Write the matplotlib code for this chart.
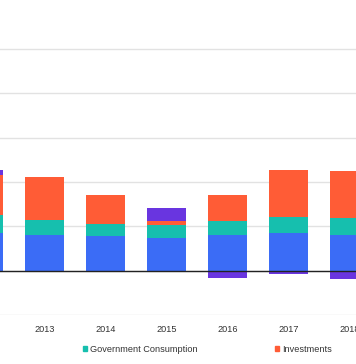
import numpy as np
import matplotlib as mpl
mpl.use("Agg")
import matplotlib.pyplot as plt
from matplotlib.patches import Patch
from matplotlib import font_manager

# narrow sans if it is there, plain Liberation Sans otherwise
_names = {f.name for f in font_manager.fontManager.ttflist}
if "Liberation Sans Narrow" in _names:
    FAMILY, FSIZE = ["Liberation Sans Narrow", "DejaVu Sans"], 7.4
else:
    FAMILY, FSIZE = ["Liberation Sans", "DejaVu Sans"], 6.6

mpl.rcParams.update({
    "font.family": FAMILY,
    "font.size": FSIZE,
    "text.color": "#333333",
})

# ---------------------------------------------------------------------------
# Data (contributions to growth, percentage points)
# ---------------------------------------------------------------------------
years = [2012, 2013, 2014, 2015, 2016, 2017, 2018]
private_cons = [0.84, 0.80, 0.78, 0.74, 0.81, 0.85, 0.80]
government_cons = [0.42, 0.35, 0.27, 0.29, 0.31, 0.36, 0.39]
investments = [0.89, 0.97, 0.66, 0.10, 0.60, 1.07, 1.07]
net_exports = [0.13, 0.00, -0.04, 0.28, -0.16, -0.07, -0.19]

COLORS = {
    "private": "#3b6cf6",
    "government": "#16bfae",
    "investments": "#ff5c36",
    "net": "#6935e0",
}

# ---------------------------------------------------------------------------
# Figure
# ---------------------------------------------------------------------------
fig = plt.figure(figsize=(3.56, 3.64), dpi=100)
ax = fig.add_axes([0, 49 / 364, 1, 315 / 364])

x = np.array(years, dtype=float)
w = 0.64
pc = np.array(private_cons)
gc = np.array(government_cons)
inv = np.array(investments)
ne = np.array(net_exports)

ax.bar(x, pc, width=w, color=COLORS["private"], zorder=3)
ax.bar(x, gc, width=w, bottom=pc, color=COLORS["government"], zorder=3)
ax.bar(x, inv, width=w, bottom=pc + gc, color=COLORS["investments"], zorder=3)
top = pc + gc + inv
ne_bottom = np.where(ne >= 0, top, 0)
ax.bar(x, ne, width=w, bottom=ne_bottom, color=COLORS["net"], zorder=3)

ax.axhline(0, color="#222222", linewidth=1.0, zorder=4)

# axes
ax.set_xlim(2013 - 44.5 / 61, 2013 + (356 - 44.5) / 61)
ax.set_ylim(-1, -1 + 315 / 44.3)
ax.set_yticks(np.arange(-1, 6))
ax.yaxis.grid(True, color="#e2e2e2", linewidth=1.0, zorder=0)
ax.set_axisbelow(True)
ax.tick_params(axis="y", left=False, labelleft=False)
ax.set_xticks(years[1:])
ax.set_xticklabels([str(y) for y in years[1:]])
ax.tick_params(axis="x", length=0, pad=7.5, labelcolor="#333333")
for s in ax.spines.values():
    s.set_visible(False)

# legend
handles = [
    Patch(color=COLORS["government"], label="Government Consumption"),
    Patch(color=COLORS["investments"], label="Investments"),
]
leg = fig.legend(
    handles=handles,
    loc="center left",
    bbox_to_anchor=(82.7 / 356, 15 / 364),
    ncol=2,
    frameon=False,
    borderpad=0,
    borderaxespad=0,
    handlelength=0.49,
    handleheight=0.49,
    handletextpad=0.33,
    columnspacing=8.4,
)

fig.savefig("out.png", dpi=100)
plt.close(fig)
